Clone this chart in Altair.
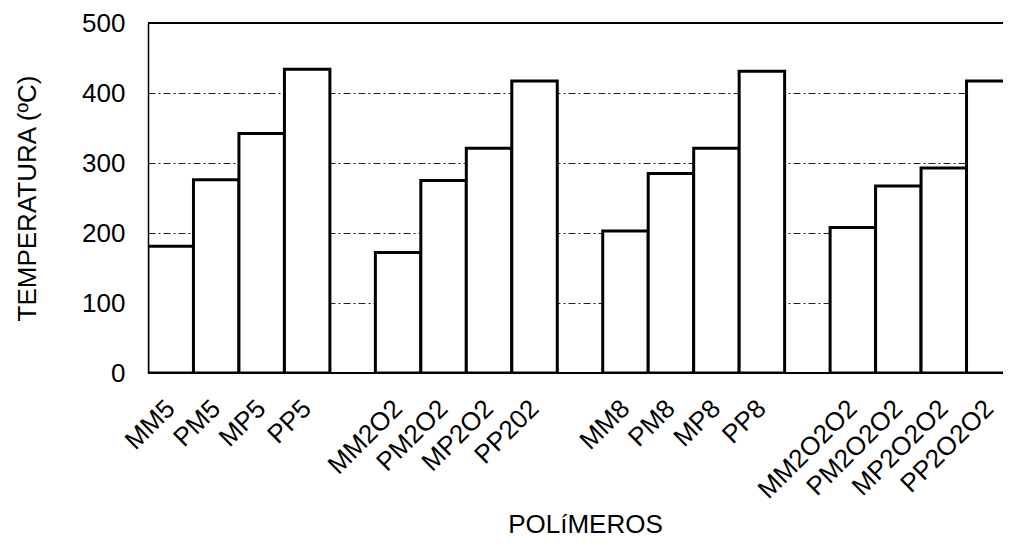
import altair as alt
import pandas as pd

# Data
polimeros = [
    "MM5", "PM5", "MP5", "PP5",
    "MM2O2", "PM2O2", "MP2O2", "PP202",
    "MM8", "PM8", "MP8", "PP8",
    "MM2O2O2", "PM2O2O2", "MP2O2O2", "PP2O2O2",
]
temperaturas = [
    181, 276, 342, 434,
    172, 275, 321, 417,
    203, 285, 321, 431,
    208, 267, 293, 417,
]
# category order on the axis, with blank spacer slots between the groups
x_order = [
    "MM5", "PM5", "MP5", "PP5", " ",
    "MM2O2", "PM2O2", "MP2O2", "PP202", "  ",
    "MM8", "PM8", "MP8", "PP8", "   ",
    "MM2O2O2", "PM2O2O2", "MP2O2O2", "PP2O2O2",
]
y_ticks = [0, 100, 200, 300, 400, 500]

df = pd.DataFrame({"polimero": polimeros, "temp": temperaturas})

W = 855
H = 350
FONT = "Liberation Sans"

bars = alt.Chart(df).mark_bar(
    fill="white", stroke="black", strokeWidth=3, clip=True
).encode(
    x=alt.X(
        "polimero:N",
        sort=x_order,
        scale=alt.Scale(domain=x_order, range=[0, 864], paddingInner=0, paddingOuter=0),
        axis=alt.Axis(
            title="POLíMEROS",
            titleFont=FONT, titleFontSize=26, titleFontWeight="normal", titleColor="black",
            titleX=437, titleY=159, titleBaseline="alphabetic", titleAlign="center",
            labelFont=FONT, labelFontSize=26, labelColor="black",
            labelAngle=-45, labelAlign="right", labelBaseline="middle",
            labelPadding=31, ticks=False, tickSize=0, domain=False, grid=False,
            labelOverlap=False, labelBound=False, labelFlush=False,
        ),
    ),
    y=alt.Y(
        "temp:Q",
        scale=alt.Scale(domain=[0, 500], nice=False, zero=True),
        axis=alt.Axis(
            title="TEMPERATURA (ºC)",
            values=y_ticks,
            titleFont=FONT, titleFontSize=26, titleFontWeight="normal", titleColor="black",
            titleAngle=270, titleX=-121, titleY=H / 2, titleAlign="center",
            titleBaseline="middle",
            labelFont=FONT, labelFontSize=26, labelColor="black",
            labelPadding=23, ticks=False, tickSize=0,
            domain=True, domainColor="black", domainWidth=1.5,
            grid=True, gridColor="#222222", gridWidth=1, gridDash=[7, 3, 2, 3],
        ),
    ),
)

top_rule = alt.Chart(df).mark_rule(color="black", strokeWidth=2).encode(
    x=alt.value(0), x2=alt.value(W), y=alt.value(0)
)
base_rule = alt.Chart(df).mark_rule(color="black", strokeWidth=2).encode(
    x=alt.value(0), x2=alt.value(W), y=alt.value(H)
)

chart = alt.layer(base_rule, bars, top_rule).properties(
    width=W,
    height=H,
    autosize=alt.AutoSizeParams(type="none"),
    padding={"left": 140, "top": 15, "right": 0, "bottom": 170},
).configure_view(stroke=None).configure(background="white")

chart.save("out.html", embed_options={"renderer": "svg", "actions": False})
